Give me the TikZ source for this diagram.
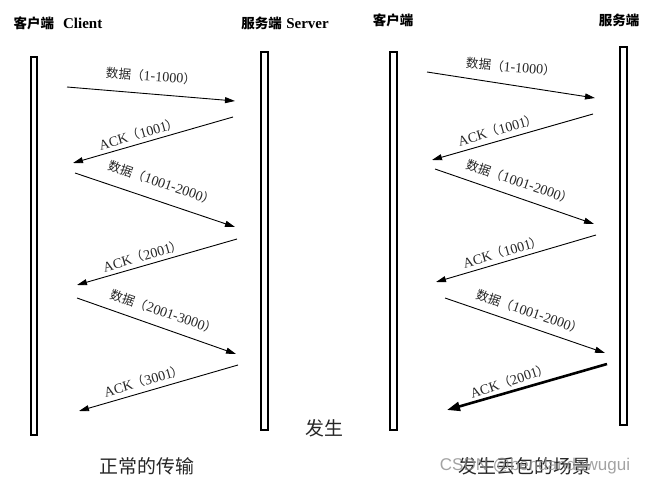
\documentclass[tikz,border=0pt]{standalone}
\usepackage{fontspec}
\setmainfont{Liberation Serif}
\newfontfamily\cjk[Scale=0.9]{Noto Sans CJK SC}
\newfontfamily\wmfont{Liberation Sans}
\usetikzlibrary{arrows.meta}
\newcommand{\zh}[1]{{\cjk #1}}
\begin{document}
\begin{tikzpicture}[x=1pt,y=-1pt,
  bar/.style={draw, line width=1.1pt, fill=white, minimum width=6pt, inner sep=0pt},
  msg/.style={line width=0.9pt, -{Triangle[length=10pt,width=6pt]}},
  lost/.style={line width=2.6pt, -{Triangle[length=13pt,width=9pt]}},
  lbl/.style={font=\fontsize{14}{16}\selectfont, inner sep=0pt, text=black!85},
  ttl/.style={font=\fontsize{15}{17}\selectfont\bfseries, inner sep=0pt},
  captxt/.style={font=\fontsize{21}{24}\selectfont\cjk, inner sep=0pt, text=black!85},
  wm/.style={font=\fontsize{17}{20}\selectfont\wmfont, inner sep=0pt, text=black!45, opacity=0.8}
]
\useasboundingbox (0,0) rectangle (649,487);

% titles
\node[ttl] (t1) at (58,23) {\zh{客户端}\hspace{0.6em}Client};
\node[ttl] (t2) at (285,23) {\zh{服务端}\hspace{0.3em}Server};
\node[ttl] (t3) at (393,20) {\zh{客户端}};
\node[ttl] (t4) at (619,20) {\zh{服务端}};

% bars
\node[bar, minimum height=378pt] (c1) at (34,246) {};
\node[bar, minimum height=378pt, minimum width=7pt] (s1) at (264.5,241) {};
\node[bar, minimum height=378pt, minimum width=7pt] (c2) at (393.5,241) {};
\node[bar, minimum height=378pt, minimum width=7pt] (s2) at (623.5,236) {};

% left arrows
\coordinate (l1s) at (67,87);   \coordinate (l1e) at (235,101);
\coordinate (l2s) at (233,117); \coordinate (l2e) at (73,163);
\coordinate (l3s) at (75,173);  \coordinate (l3e) at (235,227);
\coordinate (l4s) at (237,239); \coordinate (l4e) at (77,285);
\coordinate (l5s) at (77,298);  \coordinate (l5e) at (236,354);
\coordinate (l6s) at (238,365); \coordinate (l6e) at (79,411);
\draw[msg] (l1s) -- (l1e);
\draw[msg] (l2s) -- (l2e);
\draw[msg] (l3s) -- (l3e);
\draw[msg] (l4s) -- (l4e);
\draw[msg] (l5s) -- (l5e);
\draw[msg] (l6s) -- (l6e);

\node[lbl, rotate=-4]  (ll1) at (151,76)  {\zh{数据（}1-1000\zh{）}};
\node[lbl, rotate=16]  (ll2) at (139,134) {ACK\zh{（}1001\zh{）}};
\node[lbl, rotate=-19] (ll3) at (162,183) {\zh{数据（}1001-2000\zh{）}};
\node[lbl, rotate=16]  (ll4) at (143,256) {ACK\zh{（}2001\zh{）}};
\node[lbl, rotate=-19] (ll5) at (164,312) {\zh{数据（}2001-3000\zh{）}};
\node[lbl, rotate=16]  (ll6) at (144,381) {ACK\zh{（}3001\zh{）}};

% right arrows
\coordinate (r1s) at (427,72);  \coordinate (r1e) at (595,98);
\coordinate (r2s) at (593,114); \coordinate (r2e) at (432,160);
\coordinate (r3s) at (435,169); \coordinate (r3e) at (594,224);
\coordinate (r4s) at (596,235); \coordinate (r4e) at (436,282);
\coordinate (r5s) at (445,298); \coordinate (r5e) at (605,353);
\coordinate (r6s) at (607,364); \coordinate (r6e) at (447,410);
\draw[msg] (r1s) -- (r1e);
\draw[msg] (r2s) -- (r2e);
\draw[msg] (r3s) -- (r3e);
\draw[msg] (r4s) -- (r4e);
\draw[msg] (r5s) -- (r5e);
\draw[lost] (r6s) -- (r6e);

\node[lbl, rotate=-5]  (rl1) at (511,67)  {\zh{数据（}1-1000\zh{）}};
\node[lbl, rotate=16]  (rl2) at (498,130) {ACK\zh{（}1001\zh{）}};
\node[lbl, rotate=-19] (rl3) at (520,182) {\zh{数据（}1001-2000\zh{）}};
\node[lbl, rotate=16]  (rl4) at (503,252) {ACK\zh{（}1001\zh{）}};
\node[lbl, rotate=-19] (rl5) at (530,312) {\zh{数据（}1001-2000\zh{）}};
\node[lbl, rotate=18]  (rl6) at (510,381) {ACK\zh{（}2001\zh{）}};

% captions
\node[captxt] (k0) at (324,428) {发生};
\node[captxt] (k1) at (147,466) {正常的传输};
\node[captxt] (k2) at (525,466) {发生丢包的场景};
\node[wm] (w) at (535,466) {CSDN @bendandawugui};
\end{tikzpicture}
\end{document}
